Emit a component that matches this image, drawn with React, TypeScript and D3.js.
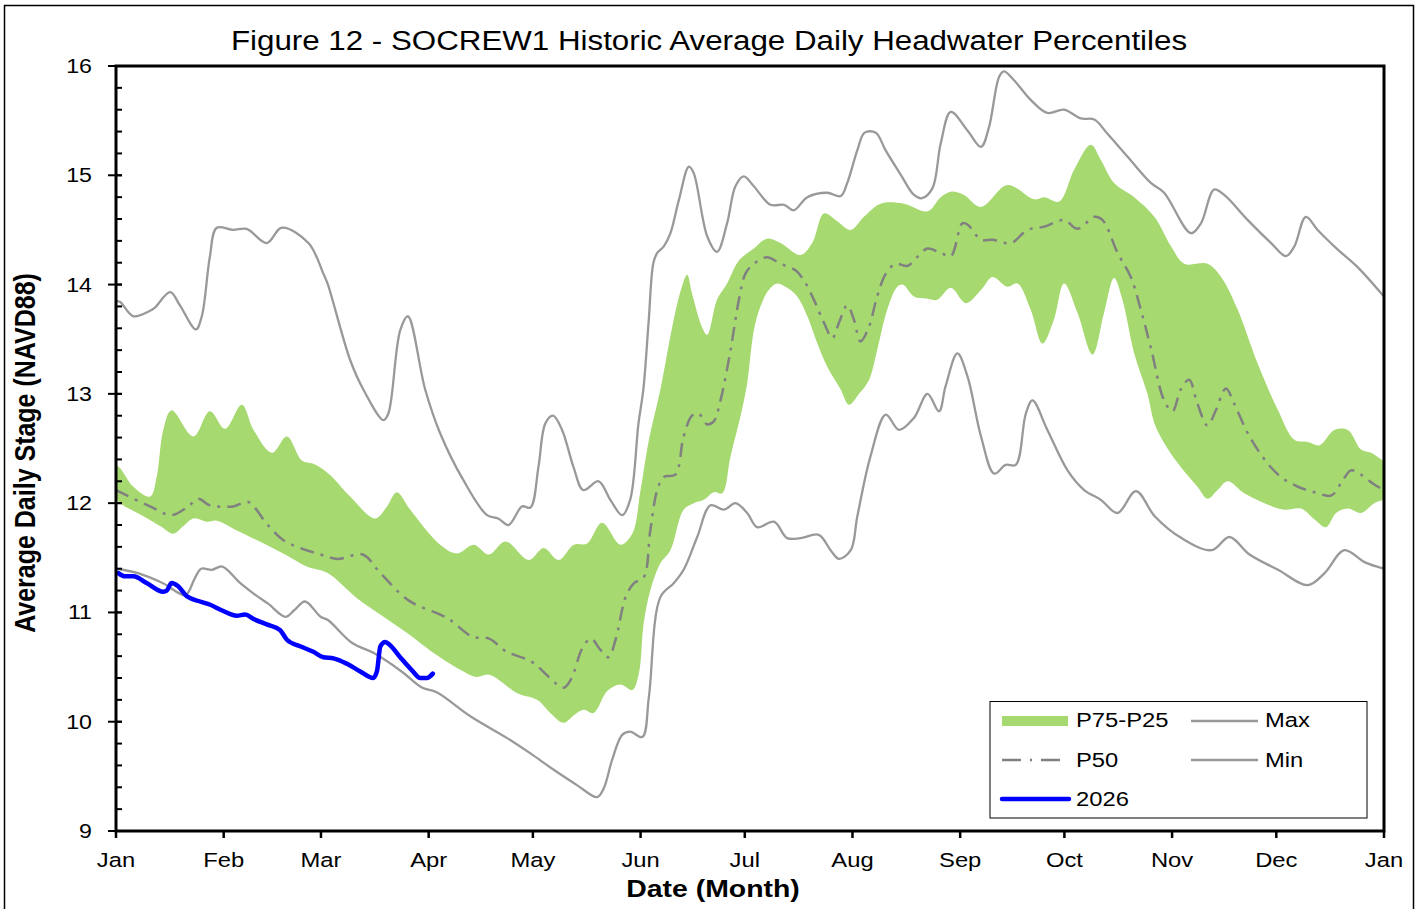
import React from 'react';
import * as d3 from 'd3';

type Pt = [number, number]; // [day of year, stage ft NAVD88]

const MONTHS = ['Jan', 'Feb', 'Mar', 'Apr', 'May', 'Jun', 'Jul', 'Aug', 'Sep', 'Oct', 'Nov', 'Dec', 'Jan'];
const MONTH_START = [0, 31, 59, 90, 120, 151, 181, 212, 243, 273, 304, 334, 365];
const Y_TICKS = [9, 10, 11, 12, 13, 14, 15, 16];

const maxStage: Pt[] = [
  [0, 13.85], [1.2, 13.84], [5, 13.71], [9.8, 13.76], [11.2, 13.79], [15.6, 13.93], [18.4, 13.81],
  [23, 13.59], [24.7, 13.71], [27, 14.25], [29, 14.52], [33.7, 14.5], [37.6, 14.51], [43.4, 14.38],
  [47.7, 14.52], [55.4, 14.38], [59.7, 14.1], [61, 14.0], [67.4, 13.31], [71.2, 13.04], [77, 12.76],
  [78.4, 12.82], [81.8, 13.58], [84, 13.71], [89, 13.04], [93.3, 12.64], [100, 12.21], [106.8, 11.89],
  [110, 11.86], [113, 11.8], [116.9, 11.97], [119.3, 11.96], [121.6, 12.33], [123.6, 12.73],
  [125.8, 12.8], [128.4, 12.67], [131.7, 12.33], [134.5, 12.12], [138.9, 12.2], [142.3, 12.03],
  [145.7, 11.89], [148, 12.03], [150.4, 12.73], [151.8, 13.04], [153.3, 13.65], [154.7, 14.2],
  [155.8, 14.29], [157.7, 14.35], [159.6, 14.47], [162, 14.77], [164.9, 15.08], [166.3, 15.02],
  [170.2, 14.44], [173, 14.3], [175.9, 14.56], [178.3, 14.9], [180.7, 14.99], [183.6, 14.9],
  [188.4, 14.73], [192.3, 14.73], [195.1, 14.68], [199, 14.8], [204.7, 14.84], [208.6, 14.81],
  [210.5, 14.93], [213.4, 15.23], [215.5, 15.39], [218.7, 15.39], [221.5, 15.23], [226, 15.0],
  [229.7, 14.82], [232, 14.79], [235, 14.88], [237.4, 15.29], [240.3, 15.58], [245.1, 15.41],
  [249, 15.26], [251.3, 15.44], [254.2, 15.9], [255.6, 15.95], [258.5, 15.87], [263.3, 15.69],
  [268.1, 15.57], [272.9, 15.6], [277.7, 15.52], [281.6, 15.51], [285.4, 15.38], [291.2, 15.17],
  [297.9, 14.93], [301.7, 14.84], [309.4, 14.47], [312.3, 14.56], [316.1, 14.87], [319, 14.82],
  [325.8, 14.59], [332.5, 14.38], [336.8, 14.26], [339.2, 14.35], [342.5, 14.62], [345.9, 14.5],
  [351.7, 14.32], [357.4, 14.16], [365, 13.89],
];

const minStage: Pt[] = [
  [0, 11.4], [6.3, 11.36], [13.4, 11.27], [20, 11.16], [22.5, 11.3], [24.5, 11.4], [27.6, 11.39],
  [30.6, 11.42], [35.7, 11.27], [39.7, 11.17], [43.8, 11.08], [48.8, 10.96], [51.3, 11.02],
  [54.4, 11.1], [58.9, 10.96], [61, 10.93], [68, 10.72], [74.1, 10.63], [82.2, 10.46], [88.2, 10.31],
  [92.3, 10.27], [102, 10.05], [112.6, 9.85], [119.3, 9.71], [126, 9.56], [132.7, 9.42],
  [138.5, 9.31], [140.4, 9.39], [142.8, 9.65], [145.7, 9.88], [148, 9.91], [151.5, 9.86],
  [153.4, 10.23], [156.7, 11.14], [160.6, 11.27], [163.4, 11.39], [167.3, 11.69], [171.1, 11.98],
  [175, 11.94], [178.3, 12.0], [181.7, 11.91], [184.6, 11.78], [189.4, 11.83], [193.2, 11.68],
  [197, 11.68], [202.3, 11.71], [205.7, 11.57], [208.1, 11.49], [211.5, 11.57], [213.4, 11.88],
  [217.2, 12.43], [221.6, 12.81], [225.4, 12.67], [229.7, 12.78], [233.6, 13.0], [236.9, 12.84],
  [238.8, 13.07], [242.2, 13.37], [245.1, 13.16], [249, 12.61], [252.8, 12.27], [256.1, 12.35],
  [259, 12.35], [261.9, 12.82], [263.8, 12.94], [268.1, 12.67], [273.9, 12.3], [278.7, 12.12],
  [283.5, 12.03], [288.3, 11.91], [293.6, 12.11], [299, 11.88], [306.7, 11.68], [315.4, 11.57],
  [320.5, 11.69], [326.3, 11.53], [334.5, 11.39], [343.1, 11.25], [347.9, 11.36], [353.6, 11.57],
  [359.4, 11.46], [365, 11.4],
];

const p50: Pt[] = [
  [0, 12.12], [1.2, 12.1], [9.8, 11.97], [16, 11.89], [20.8, 11.97], [23.7, 12.04], [27, 11.98],
  [33.8, 11.97], [38.1, 12.01], [43.4, 11.81], [48.2, 11.66], [53, 11.59], [58.9, 11.53],
  [63.9, 11.49], [71, 11.53], [76.1, 11.36], [84.2, 11.11], [93.3, 10.98], [96.3, 10.93],
  [102.4, 10.78], [107.4, 10.76], [112.5, 10.64], [119.6, 10.55], [124.6, 10.41], [128.8, 10.31],
  [131, 10.39], [134.2, 10.67], [136.7, 10.76], [139.4, 10.66], [141.8, 10.59], [143.8, 10.75],
  [146.8, 11.15], [149.2, 11.27], [151.9, 11.32], [153.8, 11.75], [155.8, 12.12], [157.7, 12.24],
  [161, 12.26], [163.4, 12.61], [165.8, 12.8], [167.7, 12.82], [170.2, 12.72], [172.1, 12.75],
  [174, 12.94], [176.9, 13.4], [179.3, 13.86], [181.2, 14.1], [183.6, 14.19], [187.4, 14.25],
  [191.3, 14.19], [195.6, 14.13], [198, 14.04], [200.9, 13.86], [203.8, 13.65], [206.2, 13.51],
  [208.1, 13.65], [210.5, 13.81], [212.4, 13.68], [214.3, 13.48], [216.7, 13.61], [219.1, 13.89],
  [221.6, 14.1], [224.4, 14.19], [227.8, 14.17], [230.6, 14.25], [233.6, 14.33], [237.4, 14.29],
  [240.3, 14.26], [243.6, 14.56], [245.1, 14.55], [249, 14.41], [252.3, 14.41], [257.6, 14.38],
  [262.4, 14.5], [267.2, 14.53], [272.9, 14.59], [276.8, 14.51], [281.6, 14.62], [284, 14.59],
  [288.3, 14.29], [292.1, 14.07], [295, 13.77], [297.9, 13.42], [301.7, 12.94], [304.1, 12.84],
  [306.5, 13.04], [308.9, 13.13], [311.3, 12.91], [314.2, 12.71], [316.6, 12.85], [319.5, 13.05],
  [321.9, 12.91], [325.8, 12.64], [330.6, 12.4], [335.3, 12.24], [340.2, 12.15], [345, 12.1],
  [349.8, 12.07], [352.6, 12.18], [355.5, 12.3], [358.4, 12.26], [362.2, 12.17], [365, 12.12],
];

const p75: Pt[] = [
  [0, 12.35], [1.2, 12.32], [5, 12.15], [9.8, 12.06], [11.7, 12.24], [13.6, 12.67], [16, 12.85],
  [22.3, 12.61], [27, 12.84], [31.4, 12.68], [36.2, 12.9], [39.6, 12.67], [44.9, 12.46],
  [49.2, 12.61], [53.5, 12.39], [56.8, 12.36], [61.2, 12.27], [67.4, 12.06], [74.6, 11.86],
  [78, 11.97], [80.8, 12.1], [84.7, 11.94], [93.3, 11.62], [98.2, 11.54], [103, 11.62],
  [107.3, 11.53], [112.1, 11.65], [118.8, 11.48], [123.1, 11.59], [127.4, 11.48], [131.8, 11.62],
  [135.6, 11.63], [139.9, 11.82], [145.2, 11.62], [148.6, 11.72], [151, 12.12], [153.4, 12.58],
  [156.7, 13.04], [160.1, 13.61], [162.6, 13.95], [164.4, 14.09], [165.8, 13.92], [168.7, 13.61],
  [170.2, 13.54], [173, 13.86], [175.9, 14.01], [179.3, 14.22], [183.6, 14.33], [187.4, 14.42],
  [191.3, 14.38], [197, 14.27], [200.4, 14.38], [203.8, 14.65], [207.6, 14.58], [211.5, 14.5],
  [215.3, 14.62], [220.1, 14.74], [226.8, 14.74], [233.6, 14.67], [237.4, 14.8], [240.3, 14.85],
  [244.1, 14.82], [249, 14.71], [256.6, 14.91], [264.3, 14.78], [267.2, 14.8], [271.5, 14.76],
  [275.8, 15.05], [280.6, 15.28], [283.5, 15.14], [287.3, 14.93], [293.1, 14.8], [298.9, 14.62],
  [303.7, 14.35], [307.5, 14.19], [314.2, 14.19], [318.1, 14.07], [322.9, 13.77], [328.6, 13.28],
  [334.5, 12.85], [339.2, 12.58], [343.1, 12.56], [346.4, 12.53], [350.7, 12.67], [354.6, 12.67],
  [358.4, 12.49], [361.3, 12.46], [365, 12.38],
];

const p25: Pt[] = [
  [0, 12.05], [1.2, 12.0], [7.9, 11.88], [12.7, 11.79], [16.5, 11.72], [19.4, 11.79], [22.3, 11.86],
  [26.1, 11.83], [29, 11.84], [34.8, 11.75], [40.6, 11.66], [48.7, 11.53], [54.9, 11.42],
  [60.9, 11.36], [69, 11.14], [77, 10.96], [85.2, 10.78], [90.5, 10.65], [99.4, 10.47],
  [103.6, 10.41], [107.5, 10.43], [115.5, 10.26], [121.2, 10.2], [125, 10.08], [128.8, 9.99],
  [131.8, 10.06], [134.6, 10.11], [137.5, 10.08], [141.4, 10.28], [145.2, 10.34], [148.6, 10.29],
  [150.5, 10.44], [151.9, 10.9], [153.8, 11.2], [156.7, 11.45], [159.6, 11.57], [163.4, 11.94],
  [166.3, 12.0], [169.2, 12.03], [172.1, 12.1], [174.5, 12.09], [176.9, 12.43], [179.8, 12.8],
  [181.7, 13.1], [183.6, 13.58], [185.5, 13.8], [187.9, 13.95], [190.3, 14.01], [193.2, 13.97],
  [196.1, 13.89], [199, 13.71], [201.9, 13.46], [204.7, 13.25], [208.6, 13.04], [211, 12.9],
  [213.9, 13.0], [216.8, 13.13], [219.1, 13.4], [222, 13.77], [224.9, 13.98], [226.5, 14.0],
  [229.7, 13.89], [233.6, 13.87], [236.4, 13.86], [240.3, 13.97], [244.6, 13.83], [249, 13.95],
  [252.3, 14.07], [256.6, 13.98], [259.5, 14.01], [263.3, 13.77], [266.7, 13.46], [270, 13.68],
  [272.9, 14.01], [276.8, 13.74], [281.1, 13.36], [284.4, 13.74], [287.3, 14.06], [289.7, 13.86],
  [293.1, 13.37], [296.9, 13.0], [298.9, 12.73], [301.7, 12.55], [306.5, 12.33], [311.3, 12.15],
  [314.2, 12.04], [317.1, 12.12], [320, 12.2], [324.8, 12.09], [330.6, 12.0], [336.3, 11.94],
  [341.1, 11.95], [345, 11.85], [348.3, 11.78], [351.2, 11.91], [354.6, 11.95], [358.4, 11.91],
  [362.2, 12.0], [365, 12.03],
];

const y2026: Pt[] = [
  [0.7, 11.36], [2.6, 11.33], [5, 11.33], [8.8, 11.27], [13.6, 11.19], [14.6, 11.2], [16, 11.27],
  [17.9, 11.24], [20.3, 11.15], [24.2, 11.1], [27.1, 11.07], [30.4, 11.02], [34.8, 10.97],
  [37.2, 10.98], [39.6, 10.94], [43.4, 10.89], [47.2, 10.84], [49.2, 10.75], [53, 10.69],
  [56.8, 10.64], [59.7, 10.59], [62.6, 10.58], [66.5, 10.53], [70.3, 10.46], [74, 10.4],
  [75.1, 10.46], [76.1, 10.69], [77.5, 10.73], [78.9, 10.7], [81.8, 10.59], [85.2, 10.47],
  [87.6, 10.4], [89.5, 10.4], [91.2, 10.44],
];

const GREEN = '#a7d971';
const GREY = '#999999';
const DASHGREY = '#808080';
const BLUE = '#0000ff';
const SX = 1.16; // the source picture is stretched sideways
const FONT = 'Arial, "Liberation Sans", Helvetica, sans-serif';

function Txt({ x, y, size, anchor = 'start', weight = 'normal', rotate = 0, children }: any) {
  const t = `translate(${x},${y}) scale(${SX},1)` + (rotate ? ` rotate(${rotate})` : '');
  return (
    <text transform={t} fontSize={size} textAnchor={anchor} fontWeight={weight} fontFamily={FONT} fill="#000">
      {children}
    </text>
  );
}

export default function App() {
  const left = 116, right = 1384, top = 66, bottom = 831;
  const x = d3.scaleLinear().domain([0, 365]).range([left, right]);
  const y = d3.scaleLinear().domain([9, 16]).range([bottom, top]);

  const smooth = d3.line<Pt>().x(d => x(d[0])).y(d => y(d[1])).curve(d3.curveCatmullRom.alpha(0.5));
  const daily = d3.line<Pt>().x(d => x(d[0])).y(d => y(d[1])).curve(d3.curveMonotoneX);

  // band: upper edge forward, lower edge back
  const band = smooth(p75) + 'L' + (smooth([...p25].reverse()) as string).slice(1) + 'Z';

  const minor = d3.range(0, 36).map(i => 9 + i * 0.2);

  return (
    <div style={{ position: 'absolute', left: 0, top: 0 }}>
      <svg width={1427} height={909} style={{ display: 'block', background: '#fff' }}>
        <defs>
          <clipPath id="plot">
            <rect x={left} y={top} width={right - left} height={bottom - top} />
          </clipPath>
        </defs>
        <rect x={4.5} y={5.5} width={1409} height={1000} fill="none" stroke="#000" strokeWidth={1.5} />

        <Txt x={709} y={50} size={27} anchor="middle">
          Figure 12 - SOCREW1 Historic Average Daily Headwater Percentiles
        </Txt>

        <g clipPath="url(#plot)">
          <path d={band} fill={GREEN} />
          <path d={smooth(maxStage) as string} fill="none" stroke={GREY} strokeWidth={2.3} />
          <path d={smooth(minStage) as string} fill="none" stroke={GREY} strokeWidth={2.3} />
          <path d={smooth(p50) as string} fill="none" stroke={DASHGREY} strokeWidth={2.5} strokeDasharray="14,7,3,7" />
          <path d={daily(y2026) as string} fill="none" stroke={BLUE} strokeWidth={4.5} strokeLinecap="round" strokeLinejoin="round" />
        </g>

        {/* y axis ticks */}
        {minor.map(v => (
          <line key={'m' + v} x1={left} x2={left + 6} y1={y(v)} y2={y(v)} stroke="#000" strokeWidth={2} />
        ))}
        {Y_TICKS.map(v => (
          <g key={'y' + v}>
            <line x1={left - 8} x2={left + 6} y1={y(v)} y2={y(v)} stroke="#000" strokeWidth={2} />
            <Txt x={92} y={y(v) + 7} size={20} anchor="end">{v}</Txt>
          </g>
        ))}

        {/* x axis ticks */}
        {MONTH_START.map((d, i) => (
          <g key={'x' + i}>
            <line x1={x(d)} x2={x(d)} y1={bottom} y2={bottom + 7} stroke="#000" strokeWidth={2.5} />
            <Txt x={x(d)} y={867} size={20.5} anchor="middle">{MONTHS[i]}</Txt>
          </g>
        ))}

        <rect x={left} y={top} width={right - left} height={bottom - top} fill="none" stroke="#000" strokeWidth={3} />

        <Txt x={713} y={897} size={24.5} anchor="middle" weight="bold">Date (Month)</Txt>
        <Txt x={35} y={453} size={25} anchor="middle" weight="bold" rotate={-90}>Average Daily Stage (NAVD88)</Txt>

        {/* legend */}
        <g>
          <rect x={990} y={701.5} width={377} height={116.5} fill="#fff" stroke="#000" strokeWidth={1} />
          <rect x={1002} y={716} width={66} height={10} fill={GREEN} />
          <Txt x={1076} y={727} size={20.5}>P75-P25</Txt>
          <line x1={1191} x2={1258} y1={721} y2={721} stroke={GREY} strokeWidth={2.3} />
          <Txt x={1265} y={727} size={20.5}>Max</Txt>
          <line x1={1002} x2={1061} y1={760} y2={760} stroke={DASHGREY} strokeWidth={2.5} strokeDasharray="19,9,2,9" />
          <Txt x={1076} y={767} size={20.5}>P50</Txt>
          <line x1={1191} x2={1258} y1={760} y2={760} stroke={GREY} strokeWidth={2.3} />
          <Txt x={1265} y={767} size={20.5}>Min</Txt>
          <line x1={1002} x2={1069} y1={799} y2={799} stroke={BLUE} strokeWidth={4.5} strokeLinecap="round" />
          <Txt x={1076} y={806} size={20.5}>2026</Txt>
        </g>
      </svg>
    </div>
  );
}
